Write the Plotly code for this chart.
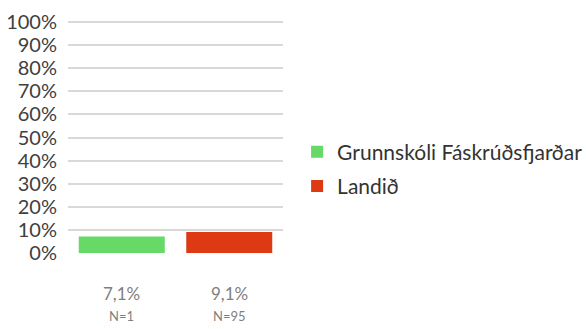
import plotly.graph_objects as go

categories = ["Grunnskóli Fáskrúðsfjarðar", "Landið"]
values = [7.1, 9.1]
counts = [1, 95]
colors = ["#66d966", "#dd3a14"]
y_ticks = [0, 10, 20, 30, 40, 50, 60, 70, 80, 90, 100]

FONT = "Lato"

fig = go.Figure()
for i, (name, v, c) in enumerate(zip(categories, values, colors)):
    fig.add_trace(go.Bar(
        x=[i], y=[v / 100], name=name, marker=dict(color=c, line=dict(width=0)),
        width=0.8, legendgroup=name,
    ))

# value and N labels under each bar
for i, (v, n) in enumerate(zip(values, counts)):
    fig.add_annotation(
        x=i, y=-0.173, xref="x", yref="paper", yanchor="middle",
        text=f"{v:.1f}%".replace(".", ","), showarrow=False,
        font=dict(family=FONT, size=17, color="#7f7f7f"),
    )
    fig.add_annotation(
        x=i, y=-0.273, xref="x", yref="paper", yanchor="middle",
        text=f"N={n}", showarrow=False,
        font=dict(family=FONT, size=13, color="#7f7f7f"),
    )

fig.update_layout(
    width=586, height=329,
    margin=dict(l=68, r=303, t=21, b=76),
    paper_bgcolor="white", plot_bgcolor="white",
    barmode="overlay",
    showlegend=True,
    legend=dict(
        xref="container", yref="container",
        x=0.507, y=0.486, xanchor="left", yanchor="middle",
        font=dict(family=FONT, size=21, color="#333333"),
        tracegroupgap=4, traceorder="grouped",
        itemwidth=30,
    ),
    xaxis=dict(range=[-0.5, 1.5], showticklabels=False, showgrid=False,
               zeroline=False, showline=False, ticks="", automargin=False),
    yaxis=dict(
        range=[0, 1.005], tickvals=[t / 100 for t in y_ticks],
        ticktext=[f"{t}%" for t in y_ticks],
        showgrid=True, gridcolor="#d9d9d9", gridwidth=1.5,
        zeroline=False, showline=False, ticks="",
        ticklabelstandoff=10, automargin=False,
        tickfont=dict(family=FONT, size=20, color="#404040"),
    ),
)

fig.write_html("out.html")
